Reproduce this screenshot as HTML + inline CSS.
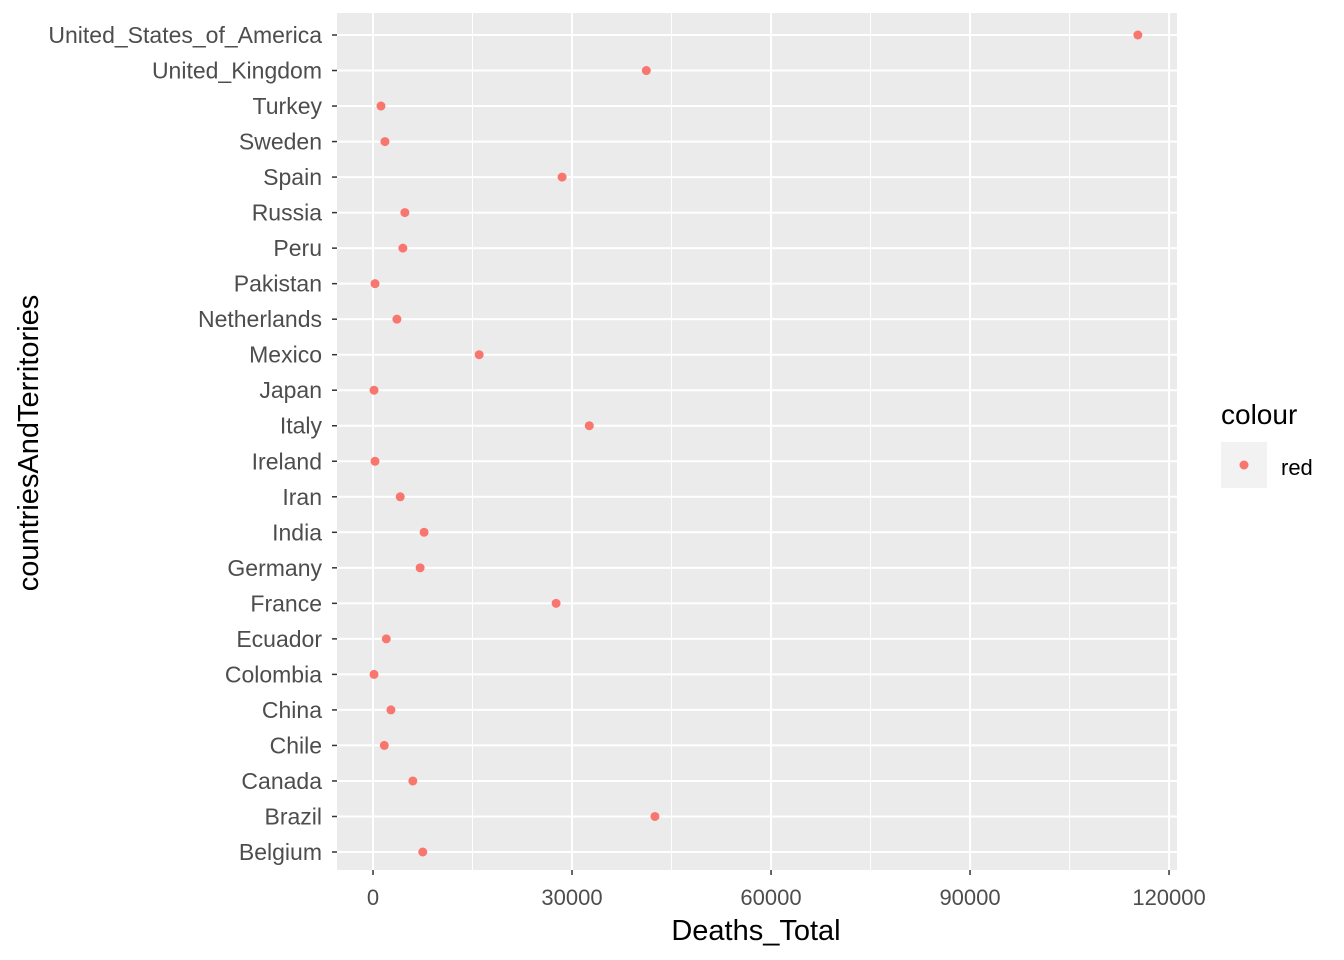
<!DOCTYPE html>
<html><head><meta charset="utf-8"><style>
body{margin:0;background:#fff;}
svg{display:block;font-family:"Liberation Sans",Arial,sans-serif;}
</style></head><body>
<svg id="chart" width="1344" height="960">
<rect x="337" y="13" width="840" height="857" fill="#ebebeb"/>
<g id="grid"></g><g id="marks"></g><g id="axes"></g>
<text x="756" y="940" font-size="29" text-anchor="middle" fill="#000">Deaths_Total</text>
<text transform="translate(38,443) rotate(-90)" font-size="29" text-anchor="middle" fill="#000">countriesAndTerritories</text>
<g>
<text x="1221" y="424" font-size="28" fill="#000">colour</text>
<rect x="1221" y="442" width="46" height="46" fill="#f2f2f2"/>
<circle cx="1244" cy="465" r="4.5" fill="#f8766d"/>
<text x="1281" y="475" font-size="22" fill="#000">red</text>
</g>
</svg>
<script>
const categories=["United_States_of_America","United_Kingdom","Turkey","Sweden","Spain","Russia","Peru","Pakistan","Netherlands","Mexico","Japan","Italy","Ireland","Iran","India","Germany","France","Ecuador","Colombia","China","Chile","Canada","Brazil","Belgium"];
const deaths=[115300,41200,1200,1800,28500,4800,4500,300,3600,16000,150,32600,300,4100,7700,7100,27600,2000,150,2700,1700,6000,42500,7500];
const xTicks=[0,30000,60000,90000,120000];
const xTickLabels=["0","30000","60000","90000","120000"];
const NS="http://www.w3.org/2000/svg";
const X0=337,X1=1177,Y0=13,Y1=870,xmin=-5430,xmax=121200;
const xs=v=>X0+(v-xmin)/(xmax-xmin)*(X1-X0);
const step=(852-35)/(categories.length-1);
const ys=i=>35+i*step;
function mk(t,a,p){const e=document.createElementNS(NS,t);for(const k in a)e.setAttribute(k,a[k]);p.appendChild(e);return e;}
const grid=document.getElementById('grid'),marks=document.getElementById('marks'),axes=document.getElementById('axes');
for(let i=0;i<xTicks.length-1;i++){const v=(xTicks[i]+xTicks[i+1])/2;const l=mk('line',{x1:xs(v),x2:xs(v),y1:Y0,y2:Y1,stroke:'#fff','stroke-width':1},grid);

}
xTicks.forEach((v,i)=>{const l=mk('line',{x1:xs(v),x2:xs(v),y1:Y0,y2:Y1,stroke:'#fff','stroke-width':2},grid);


const t=mk('line',{x1:xs(v),x2:xs(v),y1:Y1,y2:Y1+5,stroke:'#333','stroke-width':1.5},axes);


const tx=mk('text',{x:xs(v),y:905,'font-size':22,'text-anchor':'middle',fill:'#4d4d4d'},axes);tx.textContent=xTickLabels[i];

});
categories.forEach((c,i)=>{const y=ys(i);
const g=mk('line',{x1:X0,x2:X1,y1:y,y2:y,stroke:'#fff','stroke-width':2},grid);


const t=mk('line',{x1:X0-5,x2:X0,y1:y,y2:y,stroke:'#333','stroke-width':1.5},axes);


const tx=mk('text',{x:322,y:y+8,'font-size':23,'text-anchor':'end',fill:'#4d4d4d'},axes);tx.textContent=c;


const p=mk('circle',{cx:xs(deaths[i]),cy:y,r:4.5,fill:'#f8766d'},marks);

});
</script>
</body></html>
